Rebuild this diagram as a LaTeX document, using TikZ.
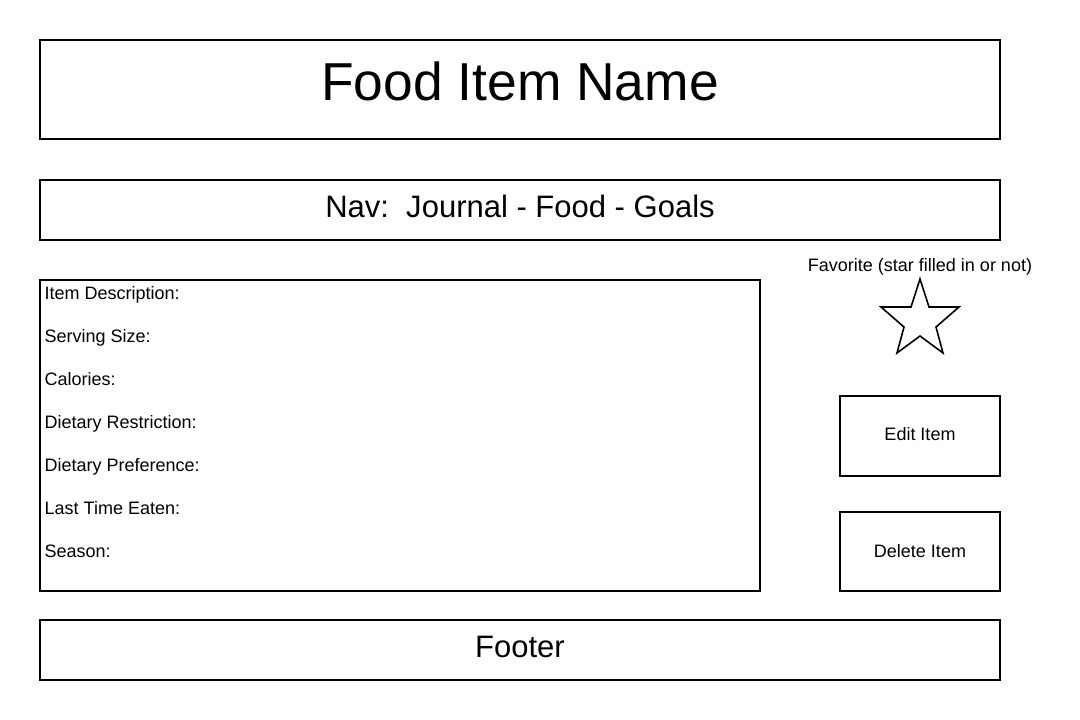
\documentclass[tikz,border=0pt]{standalone}
\usepackage{fontspec}
\setmainfont{Liberation Sans}
\frenchspacing
\begin{document}
\begin{tikzpicture}[x=1pt,y=-1pt,
  box/.style={draw=black,line width=1.6pt},
  txt/.style={inner sep=0pt,anchor=base},
  big/.style={font=\fontsize{53.4}{60}\selectfont},
  mid/.style={font=\fontsize{31}{36}\selectfont},
  small/.style={font=\fontsize{18}{20}\selectfont},
  field/.style={inner sep=0pt,anchor=base west,small}]
\useasboundingbox[fill=white] (0,0) rectangle (1080,720);
% boxes
\draw[box] (40,40) rectangle (1000,139);
\draw[box] (40,180) rectangle (1000,240);
\draw[box] (40,280) rectangle (760,591);
\draw[box] (840,396) rectangle (1000,476);
\draw[box] (840,512) rectangle (1000,591);
\draw[box] (40,620) rectangle (1000,680);
% texts
\node[txt,big] (title) at (520,100) {Food Item Name};
\node[txt,mid] (nav) at (520,217) {Nav:\hspace{0.556em}Journal - Food - Goals};
\node[txt,mid] (footer) at (520,657) {Footer};
\node[txt,small] (fav) at (920,271) {Favorite (star filled in or not)};
\node[txt,small] (edit) at (920,440) {Edit Item};
\node[txt,small] (delete) at (920,557) {Delete Item};
\node[field] (f1) at (44.5,299) {Item Description:};
\node[field] (f2) at (44.5,342) {Serving Size:};
\node[field] (f3) at (44.5,385) {Calories:};
\node[field] (f4) at (44.5,428) {Dietary Restriction:};
\node[field] (f5) at (44.5,471) {Dietary Preference:};
\node[field] (f6) at (44.5,514) {Last Time Eaten:};
\node[field] (f7) at (44.5,557) {Season:};
% star
\draw[line width=1.6pt,line join=miter] (920,279) -- (929,307) -- (959,307) -- (936,327) -- (943,353) -- (920,336) -- (897,353) -- (904,327) -- (881,307) -- (911,307) -- cycle;
\end{tikzpicture}
\end{document}
